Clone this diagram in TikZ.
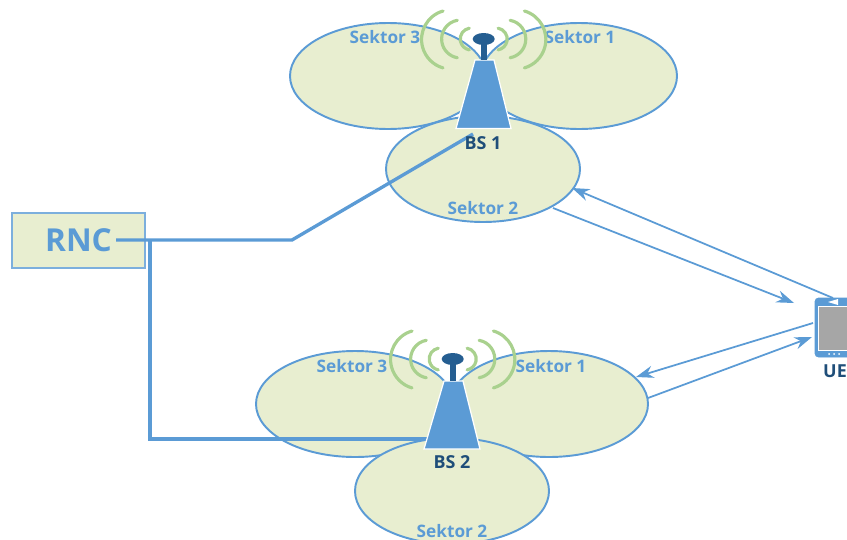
\documentclass[tikz,border=0pt]{standalone}
\usepackage{fontspec}
\setmainfont{Open Sans}
\usetikzlibrary{arrows.meta}
\definecolor{linkblue}{HTML}{5B9BD5}
\definecolor{sectorfill}{HTML}{E8EED0}
\definecolor{wavegreen}{HTML}{A9D18E}
\definecolor{mastblue}{HTML}{255E91}
\definecolor{labeldark}{HTML}{1F4E79}
\tikzset{
  sector/.style={fill=sectorfill,draw=linkblue,line width=1.1pt},
  sektorlabel/.style={text=linkblue,font=\bfseries\fontsize{9.8}{11}\selectfont},
  bslabel/.style={text=labeldark,font=\bfseries\fontsize{10.2}{11}\selectfont},
  backhaul/.style={draw=linkblue,line width=1.9pt},
  radiolink/.style={draw=linkblue,line width=1pt,-{Stealth[length=10pt,width=7pt]}},
  wave/.style={draw=wavegreen,line width=1.8pt,line cap=round},
  tower/.style={fill=linkblue,draw=white,line width=0.7pt},
}
\begin{document}
\begin{tikzpicture}[x=0.02cm,y=0.02cm]
   \clip (0,0) rectangle (847,539);
   % cell 1
   \filldraw[sector] (388,463) ellipse [x radius=98,y radius=53];
   \filldraw[sector] (579,463) ellipse [x radius=98,y radius=53];
   \filldraw[sector] (483,370) ellipse [x radius=97,y radius=53];
   % cell 2
   \filldraw[sector] (355,135) ellipse [x radius=99,y radius=53];
   \filldraw[sector] (549,135) ellipse [x radius=99,y radius=53];
   \filldraw[sector] (452,48) ellipse [x radius=97,y radius=53];
   \node[sektorlabel] (sektor13) at (385,502) {Sektor 3};
   \node[sektorlabel] (sektor11) at (580,502) {Sektor 1};
   \node[sektorlabel] (sektor12) at (483,331) {Sektor 2};
   \node[sektorlabel] (sektor23) at (352,173) {Sektor 3};
   \node[sektorlabel] (sektor21) at (551,173) {Sektor 1};
   \node[sektorlabel] (sektor22) at (452,8) {Sektor 2};
   % RNC and its lines
   \node[draw=linkblue!80,fill=sectorfill,line width=0.9pt,minimum width=2.66cm,minimum height=1.1cm,
         text=linkblue,font=\bfseries\fontsize{18}{20}\selectfont] (rnc) at (78.5,298.5) {RNC};
   \coordinate (rncout) at (116,299);
   \coordinate (rncbend) at (292,299);
   \coordinate (bs1foot) at (473,405);
   \coordinate (rncdrop) at (150,299);
   \coordinate (rnccorner) at (150,100);
   \coordinate (bs2foot) at (428,100);
   \draw[backhaul] (rncout) -- (rncbend) -- (bs1foot);
   \draw[backhaul] (rncdrop) -- (rnccorner) -- (bs2foot);
   % tower 1
   \filldraw[tower] (475,479) -- (494,479) -- (511,410.5) -- (456,410.5) -- cycle;
   \fill[mastblue] (481,479) rectangle (487,495);
   \fill[mastblue] (483.7,500) ellipse [x radius=11,y radius=6];
   \draw[wave] (443,528) arc [start angle=106,end angle=254,radius=29.6];
   \draw[wave] (524.4,528) arc [start angle=74,end angle=-74,radius=29.6];
   \draw[wave] (457.3,518.7) arc [start angle=100,end angle=260,radius=19];
   \draw[wave] (510.1,518.7) arc [start angle=80,end angle=-80,radius=19];
   \draw[wave] (469.3,510.8) arc [start angle=100,end angle=260,radius=11];
   \draw[wave] (498.1,510.8) arc [start angle=80,end angle=-80,radius=11];
   \node[bslabel] (bs1) at (483,396) {BS 1};
   % tower 2
   \filldraw[tower] (444,158) -- (463,158) -- (480,90) -- (424,90) -- cycle;
   \fill[mastblue] (450,158) rectangle (456,175);
   \fill[mastblue] (452.7,180) ellipse [x radius=11,y radius=6];
   \draw[wave] (412,208) arc [start angle=106,end angle=254,radius=29.6];
   \draw[wave] (493.4,208) arc [start angle=74,end angle=-74,radius=29.6];
   \draw[wave] (426.3,198.7) arc [start angle=100,end angle=260,radius=19];
   \draw[wave] (479.1,198.7) arc [start angle=80,end angle=-80,radius=19];
   \draw[wave] (438.3,190.8) arc [start angle=100,end angle=260,radius=11];
   \draw[wave] (467.1,190.8) arc [start angle=80,end angle=-80,radius=11];
   \node[bslabel] (bs2) at (452,77) {BS 2};
   % UE
   \filldraw[fill=linkblue,draw=linkblue,rounded corners=2pt] (815,182) rectangle (870,241);
   \filldraw[fill=black!35,draw=white,line width=0.5pt] (818,189) rectangle (870,233);
   \fill[white] (829,185) circle [radius=1];
   \fill[white] (834,185) circle [radius=1];
   \fill[white] (839,185) circle [radius=1];
   \fill[white] (828,237) -- (838,240) -- (838,234) -- cycle;
   \node[bslabel] (ue) at (835,168) {UE};
   % radio links
   \coordinate (uetop) at (833,241);
   \coordinate (cell1in) at (572,351);
   \coordinate (cell1out) at (553,331);
   \coordinate (uenear) at (794,236);
   \coordinate (ueleft) at (813,216);
   \coordinate (cell2in) at (636,162);
   \coordinate (cell2out) at (648,141);
   \coordinate (ueside) at (812,202);
   \draw[radiolink] (uetop) -- (cell1in);
   \draw[radiolink] (cell1out) -- (uenear);
   \draw[radiolink] (ueleft) -- (cell2in);
   \draw[radiolink] (cell2out) -- (ueside);
\end{tikzpicture}
\end{document}
